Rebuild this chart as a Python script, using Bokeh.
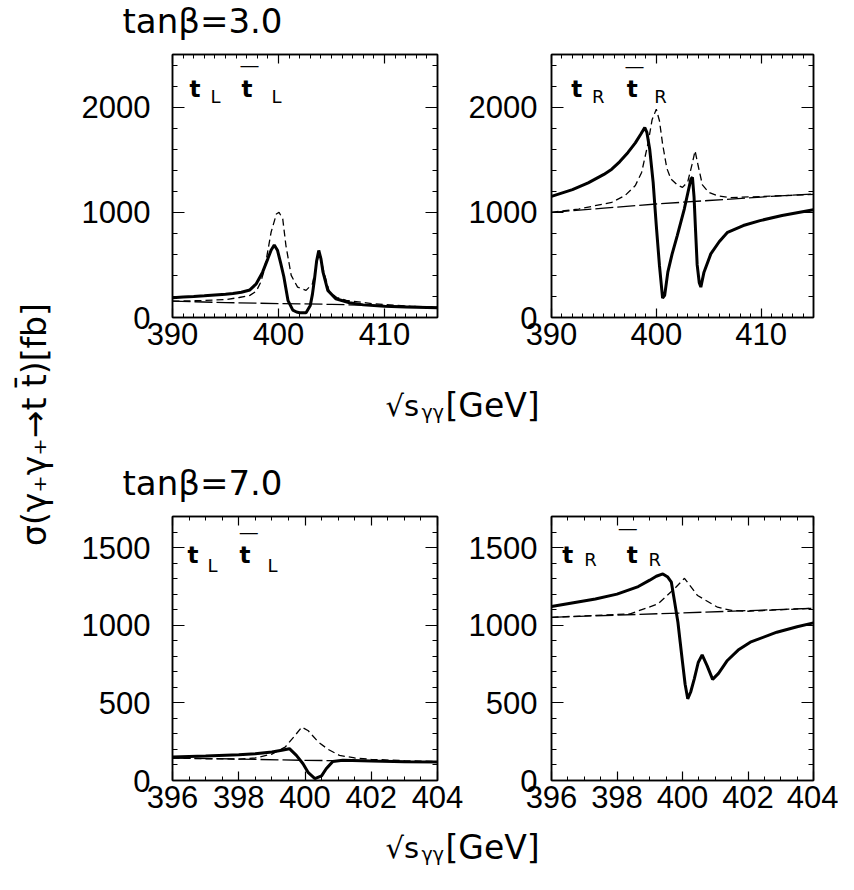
from bokeh.plotting import figure
from bokeh.models import Range1d, LinearAxis, SingleIntervalTicker, Label
from bokeh.layouts import row, column
from bokeh.embed import file_html
from bokeh.resources import INLINE
import math

# ---------------- data ----------------
# tan(beta)=3.0, t_L tbar_L
x_a_solid = [390, 391, 392, 393, 394, 395, 395.7, 396.5, 397.3, 397.9, 398.5, 399.0, 399.3, 399.6, 399.9,
             400.2, 400.5, 400.9, 401.35, 401.7, 402.0, 402.6, 403.0, 403.2, 403.4, 403.6, 403.8, 404.0,
             404.2, 404.65, 405.4, 406.7, 408, 410, 412, 415]
y_a_solid = [188, 194, 200, 207, 215, 222, 228, 240, 262, 320, 431, 560, 640, 690, 640,
             520, 390, 160, 70, 52, 45, 45, 115, 220, 368, 540, 637, 560,
             431, 258, 178, 140, 120, 108, 100, 92]
x_a_short = [390, 391, 393, 395, 396.3, 397.3, 397.9, 398.3, 398.6, 398.9, 399.3, 399.8, 400.05, 400.4,
             400.7, 401.2, 401.8, 402.6, 403.2, 403.7, 403.85, 404.0, 404.2, 404.8, 405.5, 406.4, 408.9,
             412, 415]
y_a_short = [155, 157, 162, 170, 190, 210, 250, 330, 430, 580, 810, 984, 1000, 937,
             684, 400, 289, 258, 320, 557, 610, 570, 463, 242, 190, 163, 131,
             110, 97]
x_a_long = [390, 395, 400, 405, 410, 415]
y_a_long = [155, 142, 132, 125, 112, 100]

# tan(beta)=3.0, t_R tbar_R
x_b_solid = [390, 392, 393.5, 395, 395.75, 396.5, 397.3, 398, 398.5, 398.9, 399.1, 399.37, 399.7, 400.0,
             400.3, 400.6, 400.8, 401.1, 401.5, 402.0, 402.67, 403.3, 403.45, 403.6, 403.75, 403.9,
             404.1, 404.25, 404.55, 405.2, 406, 406.8, 408.3, 409.9, 412, 415]
y_b_solid = [1152, 1215, 1280, 1360, 1410, 1480, 1569, 1660, 1740, 1806, 1760, 1600, 1284, 874,
             495, 185, 210, 431, 600, 779, 1031, 1316, 1332, 1150, 820, 500,
             330, 289, 431, 605, 720, 810, 874, 921, 970, 1025]
x_b_short = [390, 392.6, 395.75, 397.0, 398.0, 398.6, 399.2, 399.6, 400.0, 400.3, 400.6, 401.0, 401.4,
             402.0, 402.5, 403.0, 403.4, 403.7, 404.0, 404.4, 405.0, 405.8, 407, 410, 415]
y_b_short = [1000, 1031, 1095, 1158, 1254, 1379, 1650, 1880, 1980, 1870, 1650, 1420, 1316,
             1260, 1237, 1290, 1450, 1585, 1440, 1260, 1190, 1158, 1140, 1150, 1170]
x_b_long = [390, 395, 400, 405, 410, 415]
y_b_long = [1000, 1040, 1079, 1112, 1145, 1174]

# tan(beta)=7.0, t_L tbar_L
x_c_solid = [396, 397, 398, 398.5, 399, 399.3, 399.53, 399.74, 399.94, 400.1, 400.3, 400.5, 400.64,
             400.84, 401.14, 402, 403, 404]
y_c_solid = [151, 158, 166, 172, 183, 195, 205, 162, 108, 50, 12, 30, 76,
             123, 130, 125, 121, 119]
x_c_short = [396, 397, 398, 398.5, 399, 399.4, 399.7, 399.9, 400.1, 400.4, 400.7, 401.04, 401.5, 402,
             403, 404]
y_c_short = [145, 140, 138, 145, 170, 215, 290, 344, 320, 248, 200, 162, 145, 136,
             128, 122]
x_c_long = [396, 398, 400, 402, 404]
y_c_long = [145, 138, 130, 125, 120]

# tan(beta)=7.0, t_R tbar_R
x_d_solid = [396, 397.34, 398, 398.65, 399, 399.2, 399.4, 399.55, 399.66, 399.76, 399.86, 399.93, 400.0,
             400.08, 400.16, 400.25, 400.36, 400.48, 400.6, 400.75, 400.92, 401.1, 401.37, 401.7,
             402.07, 402.88, 403.5, 404]
y_d_solid = [1120, 1169, 1200, 1249, 1290, 1315, 1330, 1310, 1277, 1150, 1019, 890, 762,
             620, 526, 570, 655, 760, 809, 740, 651, 690, 773, 840,
             891, 955, 990, 1015]
x_d_short = [396, 397, 398.4, 399.25, 399.75, 400.06, 400.46, 401.07, 401.5, 402, 404]
y_d_short = [1051, 1060, 1073, 1137, 1234, 1302, 1191, 1116, 1095, 1090, 1109]
x_d_long = [396, 398, 400, 402, 404]
y_d_long = [1051, 1065, 1079, 1094, 1109]

top_xrange = (390, 415)
top_yrange = (0, 2500)
bot_xrange = (396, 404)
bot_yrange = (0, 1700)

FONT = "DejaVu Sans"
TICK_FONT = "Liberation Sans"
TICK_SIZE = "31px"


def style_axis(ax, major_in, minor_in, show_labels, standoff):
    ax.axis_line_color = "black"
    ax.axis_line_width = 1.5
    ax.major_tick_in = major_in
    ax.major_tick_out = 0
    ax.minor_tick_in = minor_in
    ax.minor_tick_out = 0
    ax.major_tick_line_color = "black"
    ax.major_tick_line_width = 1.2
    ax.minor_tick_line_color = "black"
    ax.minor_tick_line_width = 1
    ax.major_label_text_font = TICK_FONT
    if show_labels:
        ax.major_label_text_color = "black"
        ax.major_label_text_font_size = TICK_SIZE
        ax.major_label_standoff = standoff
    else:
        # mirrored tick marks only: labels are not drawn at all
        ax.major_label_text_color = None
        ax.major_label_text_font_size = "1px"
        ax.major_label_standoff = 0


def panel(xr, yr, xint, xminor, yint, yminor, width, mbl, mbr, height, ystand, curves, labels):
    p = figure(width=width, height=height, x_range=Range1d(*xr), y_range=Range1d(*yr),
               output_backend="svg", toolbar_location=None,
               min_border_left=mbl, min_border_right=mbr, min_border_top=12, min_border_bottom=48)
    p.xgrid.visible = False
    p.ygrid.visible = False
    p.outline_line_color = "black"
    p.outline_line_width = 1.5
    xt = SingleIntervalTicker(interval=xint, num_minor_ticks=xminor)
    yt = SingleIntervalTicker(interval=yint, num_minor_ticks=yminor)
    bottom_ax = p.below[0]
    left_ax = p.left[0]
    bottom_ax.ticker = xt
    left_ax.ticker = yt
    top_ax = LinearAxis(ticker=xt)
    right_ax = LinearAxis(ticker=yt)
    p.add_layout(top_ax, "above")
    p.add_layout(right_ax, "right")
    style_axis(bottom_ax, 9, 4, True, 5)
    style_axis(left_ax, 12, 5, True, ystand)
    style_axis(top_ax, 9, 4, False, 0)
    style_axis(right_ax, 12, 5, False, 0)

    (xs, ys), (xd, yd), (xl, yl) = curves
    p.line(xl, yl, line_color="black", line_width=1.3, line_dash="18 4")
    p.line(xd, yd, line_color="black", line_width=1.3, line_dash="7 4")
    p.line(xs, ys, line_color="black", line_width=3)

    for (lx, ly, txt, size, bold, base, align) in labels:
        p.add_layout(Label(x=lx, y=ly, text=txt, text_font=FONT, text_font_size=size,
                           text_font_style="bold" if bold else "normal",
                           text_baseline=base, text_align=align, text_color="black"))
    return p


def corner_labels(x_t1, x_s1, x_bar, x_t2, x_s2, y_t, y_s, y_bar, sub):
    return [
        (x_t1, y_t, "t", "23px", True, "alphabetic", "left"),
        (x_s1, y_s, sub, "18px", False, "alphabetic", "left"),
        (x_bar, y_bar, "\u2014", "20px", False, "middle", "center"),
        (x_t2, y_t, "t", "23px", True, "alphabetic", "left"),
        (x_s2, y_s, sub, "18px", False, "alphabetic", "left"),
    ]


# left panels: frame at page x 180..445 ; right panels: frame at page x 556..821
W_L, MBL_L, MBR_L = 396, 103, 28
W_R, MBL_R, MBR_R = 373, 83, 25

p_a = panel(top_xrange, top_yrange, 10, 10, 1000, 5, W_L, MBL_L, MBR_L, 323, 22,
            ((x_a_solid, y_a_solid), (x_a_short, y_a_short), (x_a_long, y_a_long)),
            corner_labels(391.6, 393.58, 397.26, 396.5, 399.34, 2168, 2102, 2396, "L"))
p_b = panel(top_xrange, top_yrange, 10, 10, 1000, 5, W_R, MBL_R, MBR_R, 323, 14,
            ((x_b_solid, y_b_solid), (x_b_short, y_b_short), (x_b_long, y_b_long)),
            corner_labels(391.89, 393.87, 397.92, 397.17, 399.81, 2168, 2102, 2390, "R"))
p_c = panel(bot_xrange, bot_yrange, 2, 4, 500, 5, W_L, MBL_L, MBR_L, 324, 22,
            ((x_c_solid, y_c_solid), (x_c_short, y_c_short), (x_c_long, y_c_long)),
            corner_labels(396.45, 397.06, 398.30, 398.02, 398.87, 1449, 1385, 1597, "L"))
p_d = panel(bot_xrange, bot_yrange, 2, 4, 500, 5, W_R, MBL_R, MBR_R, 324, 14,
            ((x_d_solid, y_d_solid), (x_d_short, y_d_short), (x_d_long, y_d_long)),
            corner_labels(396.33, 397.0, 398.33, 398.30, 398.96, 1455, 1423, 1623, "R"))


def blank(w, h):
    p = figure(width=w, height=h, x_range=Range1d(0, w), y_range=Range1d(0, h),
               output_backend="svg", toolbar_location=None, x_axis_type=None, y_axis_type=None,
               min_border=0, outline_line_color=None)
    return p


def add_text(p, x, y, txt, size, align="left", base="alphabetic", angle=0.0):
    p.add_layout(Label(x=x, y=y, text=txt, text_font=FONT, text_font_size=size, text_color="black",
                       text_align=align, text_baseline=base, angle=angle))


def add_xlabel(p, y_base):
    add_text(p, 316, y_base, "\u221as", "29px")
    add_text(p, 352, y_base - 6, "\u03b3\u03b3", "19px")
    add_text(p, 376, y_base, "[GeV]", "33px")


WB = W_L + W_R
t1 = blank(WB, 42)
add_text(t1, 53, 22, "tan\u03b2=3.0", "34px")

mid = blank(WB, 139)
add_xlabel(mid, 99)
add_text(mid, 53, 22, "tan\u03b2=7.0", "34px")

x2 = blank(WB, 46)
add_xlabel(x2, 27)

ylab = blank(69, 874)
add_text(ylab, 34, 450, "\u03c3(\u03b3\u208a\u03b3\u208a\u2192t t\u0304)[fb]", "33px",
         align="center", base="middle", angle=math.pi / 2)

layout = row(ylab, column(t1, row(p_a, p_b), mid, row(p_c, p_d), x2))

open("out.html", "w").write(file_html(layout, INLINE))
